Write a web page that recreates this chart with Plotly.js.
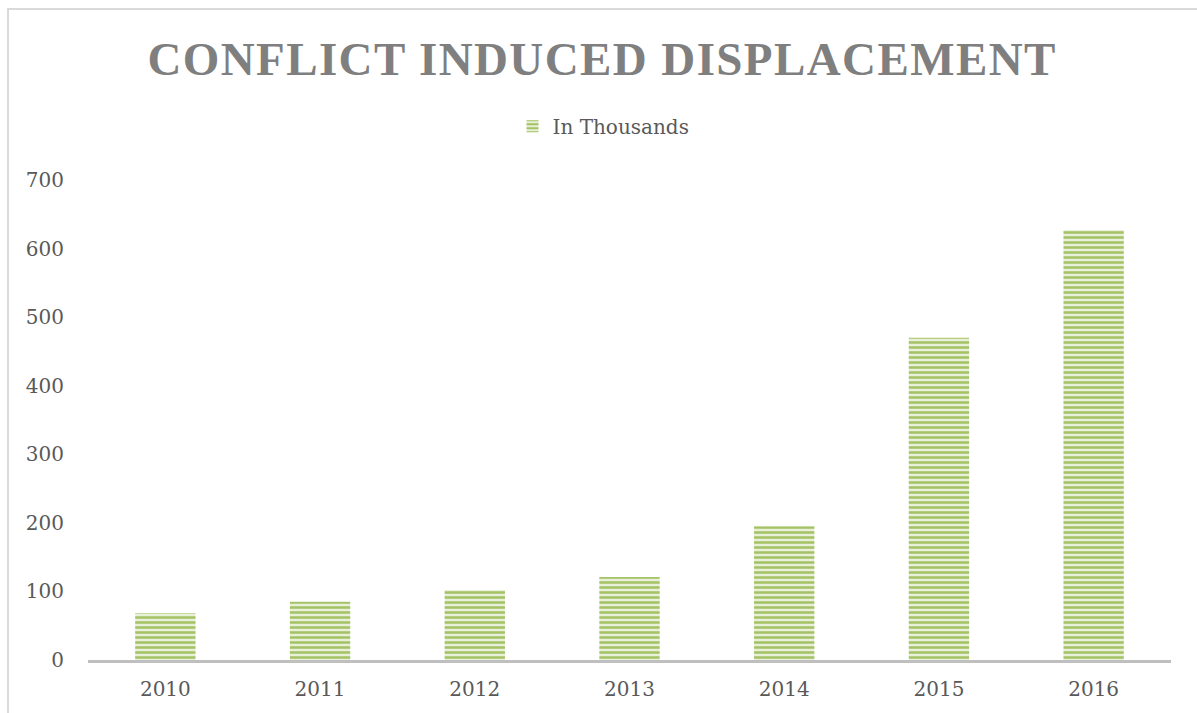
<!DOCTYPE html>
<html>
<head>
<meta charset="utf-8">
<script src="https://cdn.plot.ly/plotly-3.0.1.min.js"></script>
<style>
  html, body { margin: 0; padding: 0; background: #fff; }
  #wrap { position: relative; width: 1197px; height: 713px; overflow: hidden; }
  #chart { width: 1197px; height: 713px; }
  #frame { position: absolute; left: 7px; top: 8px; width: 1210px; height: 730px;
           border: 2px solid #d9d9d9; pointer-events: none; }
  .gtitle { letter-spacing: 1.4px; }
</style>
</head>
<body>
<div id="wrap">
  <div id="chart"></div>
  <div id="frame"></div>
</div>
<script>
const years = ['2010', '2011', '2012', '2013', '2014', '2015', '2016'];
const displaced = [68, 85, 102, 121, 195, 470, 627];
const seriesName = 'In Thousands';
const chartTitle = 'CONFLICT INDUCED DISPLACEMENT';
const yTicks = [0, 100, 200, 300, 400, 500, 600, 700];

const FONT = 'DejaVu Serif, serif';
const TITLE_FONT = 'Liberation Serif, serif';

const trace = {
  type: 'bar',
  x: years,
  y: displaced,
  name: seriesName,
  showlegend: true,
  marker: {
    color: '#dbe8c4',
    line: { width: 0 },
    pattern: { shape: '-', fgcolor: '#a3c263', bgcolor: '#e8f0da', size: 5, solidity: 0.5 }
  },
  hoverinfo: 'x+y'
};

const layout = {
  width: 1197,
  height: 713,
  paper_bgcolor: '#ffffff',
  plot_bgcolor: '#ffffff',
  margin: { l: 88, r: 26, t: 180, b: 53 },
  bargap: 0.61,
  font: { family: FONT, color: '#595959', size: 20 },
  title: {
    text: chartTitle,
    font: { family: TITLE_FONT, size: 47, color: '#7f7f7f', weight: 'bold' },
    x: 0.503, xref: 'container', xanchor: 'center',
    y: 1 - 59 / 713, yref: 'container', yanchor: 'middle'
  },
  showlegend: true,
  legend: {
    orientation: 'h',
    x: 0.476, xanchor: 'center',
    y: 1.112, yanchor: 'middle',
    itemwidth: 30,
    font: { family: FONT, size: 20, color: '#595959' },
    bgcolor: 'rgba(0,0,0,0)'
  },
  xaxis: {
    type: 'category',
    showline: true, linecolor: '#bfbfbf', linewidth: 3,
    showgrid: false, zeroline: false,
    ticks: '', ticklabelstandoff: 9,
    tickfont: { family: FONT, size: 20, color: '#595959' }
  },
  yaxis: {
    range: [0, 700],
    tickvals: yTicks,
    showline: false, showgrid: false, zeroline: false,
    ticks: '', ticklabelstandoff: 23,
    tickfont: { family: FONT, size: 20, color: '#595959' }
  }
};

Plotly.newPlot('chart', [trace], layout, { displayModeBar: false, staticPlot: true });
</script>
</body>
</html>
